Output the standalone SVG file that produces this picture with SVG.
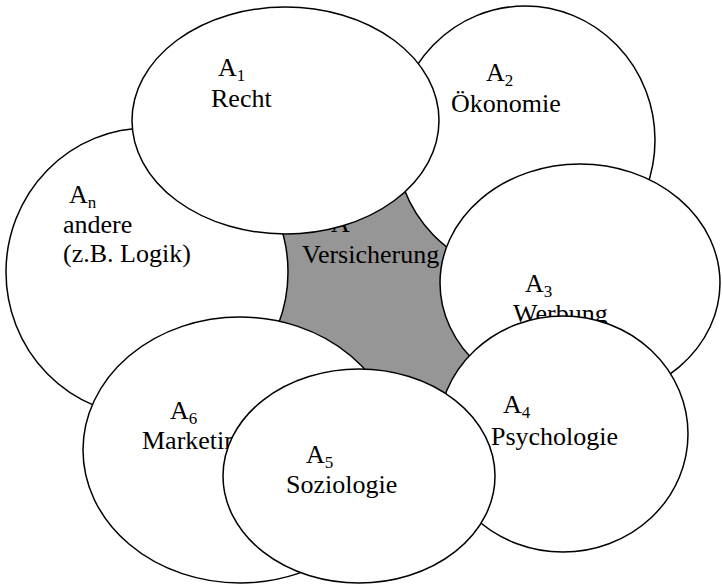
<svg xmlns="http://www.w3.org/2000/svg" width="722" height="585" viewBox="0 0 722 585">
<style>
.e{fill:#ffffff;stroke:#000000;stroke-width:1.5}
.t{font-family:"Liberation Serif","Times New Roman",serif;font-size:26px;fill:#000000}
.s{font-size:17px}
</style>
<rect x="0" y="0" width="722" height="585" fill="#ffffff"/>
<g id="center">
<polygon points="275,228 410,180 455,240 485,355 452,405 355,380 270,330" fill="#969696" stroke="none"/>
<text class="t" x="331" y="232">A</text>
<text class="t" x="302" y="263">Versicherung</text>
</g>
<g id="An">
<ellipse class="e" cx="147" cy="272" rx="141" ry="144"/>
<text class="t" x="69" y="203">A<tspan class="s" dy="5">n</tspan></text>
<text class="t" x="63" y="233">andere</text>
<text class="t" x="63" y="262">(z.B. Logik)</text>
</g>
<g id="A2">
<ellipse class="e" cx="525" cy="140" rx="130" ry="134"/>
<text class="t" x="486" y="81">A<tspan class="s" dy="5">2</tspan></text>
<text class="t" x="451" y="112">Ökonomie</text>
</g>
<g id="A6">
<ellipse class="e" cx="240" cy="450" rx="157" ry="133"/>
<text class="t" x="170" y="419">A<tspan class="s" dy="5">6</tspan></text>
<text class="t" x="142" y="449">Marketing</text>
</g>
<g id="A3">
<ellipse class="e" cx="580" cy="283" rx="140" ry="119"/>
<text class="t" x="525" y="292">A<tspan class="s" dy="5">3</tspan></text>
<text class="t" x="513" y="322">Werbung</text>
</g>
<g id="A4">
<ellipse class="e" cx="563" cy="434" rx="125" ry="118"/>
<text class="t" x="503" y="413">A<tspan class="s" dy="5">4</tspan></text>
<text class="t" x="491" y="445">Psychologie</text>
</g>
<g id="A5">
<ellipse class="e" cx="359" cy="476" rx="136" ry="107"/>
<text class="t" x="306" y="463">A<tspan class="s" dy="5">5</tspan></text>
<text class="t" x="286" y="493">Soziologie</text>
</g>
<g id="A1">
<ellipse class="e" cx="285.5" cy="120.5" rx="153.5" ry="113.5"/>
<text class="t" x="218" y="76">A<tspan class="s" dy="5">1</tspan></text>
<text class="t" x="211" y="107">Recht</text>
</g>
</svg>
